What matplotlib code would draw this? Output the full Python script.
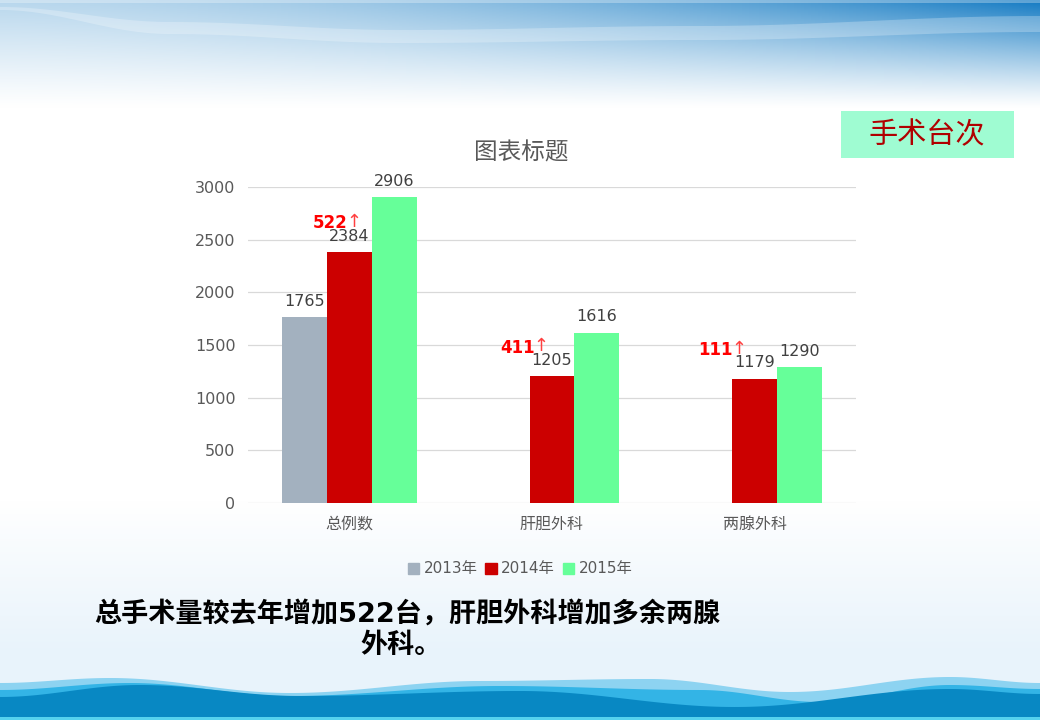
import numpy as np
import matplotlib
matplotlib.use("Agg")
import matplotlib.pyplot as plt
from matplotlib.patches import Rectangle, Patch

plt.rcParams['font.family'] = ['DejaVu Sans', 'Noto Sans CJK SC']

# ---------------- data ----------------
categories = ["总例数", "肝胆外科", "两腺外科"]
series_names = ["2013年", "2014年", "2015年"]
values_2013 = [1765, np.nan, np.nan]
values_2014 = [2384, 1205, 1179]
values_2015 = [2906, 1616, 1290]
increase_labels = ["522", "411", "111"]
y_ticks = [0, 500, 1000, 1500, 2000, 2500, 3000]
chart_title = "图表标题"
box_text = "手术台次"
note_line1 = "总手术量较去年增加522台，肝胆外科增加多余两腺"
note_line2 = "外科。"

colors = ["#a3b1bf", "#cc0000", "#66ff99"]
W, H = 1040, 720

fig = plt.figure(figsize=(10.4, 7.2), dpi=100)


def smooth_curve(xs, ys, n=500):
    """cosine interpolation between decoration control points"""
    xs = np.asarray(xs, float)
    ys = np.asarray(ys, float)
    xx = np.linspace(xs[0], xs[-1], n)
    idx = np.clip(np.searchsorted(xs, xx) - 1, 0, len(xs) - 2)
    t = (xx - xs[idx]) / (xs[idx + 1] - xs[idx])
    mu = (1 - np.cos(np.pi * t)) / 2
    return xx, ys[idx] * (1 - mu) + ys[idx + 1] * mu


# ---------------- background ----------------
bg = fig.add_axes([0, 0, 1, 1], zorder=0)
bg.set_xlim(0, W)
bg.set_ylim(H, 0)
bg.axis('off')

# soft bottom tint
yy = np.linspace(0, 1, 200)[:, None] * np.ones((1, 10))
tint = np.zeros((200, 10, 4))
tint[..., 0] = 0.91
tint[..., 1] = 0.955
tint[..., 2] = 0.985
tint[..., 3] = np.clip(yy * 1.3, 0, 1)
bg.imshow(tint, extent=[0, W, 700, 500], aspect='auto', zorder=0)

# top header gradient
hh, ww = 130, 300
ypix = np.linspace(0, 130, hh)[:, None]
t = np.linspace(0, 1, ww)[None, :]
d = (0.30 + 0.68 * t ** 1.6) * np.clip(1 - ypix / 108, 0, 1) ** 1.15
d = np.clip(d, 0, 1)
blue = np.array([0.06, 0.47, 0.76])
head = np.ones((hh, ww, 3)) * (1 - d[..., None]) + blue * d[..., None]
bg.imshow(head, extent=[0, W, 130, 0], aspect='auto', zorder=1)
# light swooshes
sx1, sy1 = smooth_curve([0, 170, 400, 700, 1040], [7, 22, 30, 26, 16])
sx2, sy2 = smooth_curve([0, 170, 400, 700, 1040], [10, 34, 43, 40, 32])
bg.fill_between(sx1, sy1, np.interp(sx1, sx2, sy2), color='white', alpha=0.25,
                lw=0, zorder=2)
bg.fill_between([0, W], 0, 3, color='white', alpha=0.3, lw=0, zorder=2)

# bottom waves
lx, ly = smooth_curve([0, 110, 290, 480, 650, 790, 950, 1040],
                      [683, 678, 693, 681, 679, 692, 677, 683])
mx, my = smooth_curve([0, 130, 290, 500, 700, 820, 950, 1040],
                      [690, 683, 696, 686, 690, 702, 685, 689])
dx, dy = smooth_curve([0, 140, 300, 520, 735, 950, 1040],
                      [697, 685, 696, 691, 707, 689, 694])
bg.fill_between(lx, ly, H, color='#8dd3f1', lw=0, zorder=3)
bg.fill_between(mx, my, H, color='#33b4e6', lw=0, zorder=4)
bg.fill_between(dx, dy, H, color='#0888c3', lw=0, zorder=5)
bg.fill_between([0, W], 717, H, color='#55d2ee', lw=0, zorder=6)

# title box
bg.add_patch(Rectangle((841, 111), 173, 47, color='#9ffcd2', lw=0, zorder=7))
bg.text(927, 135, box_text, ha='center', va='center', fontsize=21,
        color='#b00000', zorder=8, family=['Noto Sans CJK SC', 'DejaVu Sans'])

# bottom note
bg.text(407, 614, note_line1, ha='center', va='center', fontsize=19.5,
        fontweight='bold', color='black', zorder=8)
bg.text(401, 646, note_line2, ha='center', va='center', fontsize=19.5,
        fontweight='bold', color='black', zorder=8)

# chart title
bg.text(521, 153, chart_title, ha='center', va='center', fontsize=17,
        color='#595959', zorder=8, family=['Noto Sans CJK SC', 'DejaVu Sans'])

# ---------------- chart ----------------
ax = fig.add_axes([248 / W, 217 / H, 608 / W, 316 / H], zorder=2)
ax.patch.set_alpha(0)
x = np.arange(len(categories))
bw = 0.222
all_series = [values_2013, values_2014, values_2015]
for i, (vals, col) in enumerate(zip(all_series, colors)):
    vals = np.array(vals, dtype=float)
    pos = x + (i - 1) * bw
    mask = ~np.isnan(vals)
    ax.bar(pos[mask], vals[mask], width=bw, color=col, zorder=3)
    for p, v in zip(pos[mask], vals[mask]):
        ax.annotate(f"{int(v)}", (p, v), xytext=(0, 6), textcoords='offset points',
                    ha='center', va='bottom', fontsize=11.5, color='#404040')

# increase annotations near the 2014 bars
dx_px = [12.5, -3.5, -8.5]
for i, lab in enumerate(increase_labels):
    v = values_2014[i]
    dxp = dx_px[i] * 0.72
    ax.annotate("↑", (x[i], v), xytext=(dxp, 21.5), textcoords='offset points',
                ha='right', va='center', fontsize=13, color='#ff4040')
    ax.annotate(lab, (x[i], v), xytext=(dxp - 10, 20.5), textcoords='offset points',
                ha='right', va='center', fontsize=12, color='#ff0000',
                fontweight='bold')

ax.set_xlim(-0.5, len(categories) - 0.5)
ax.set_ylim(0, 3000)
ax.set_yticks(y_ticks)
ax.set_yticklabels([str(t) for t in y_ticks])
ax.set_xticks(x)
ax.set_xticklabels(categories, family=['Noto Sans CJK SC', 'DejaVu Sans'])
ax.tick_params(axis='y', length=0, pad=9, labelsize=11.5, labelcolor='#595959')
ax.tick_params(axis='x', length=0, pad=9, labelsize=11.5, labelcolor='#595959')
ax.grid(axis='y', color='#d9d9d9', lw=0.9, zorder=0)
for sp in ax.spines.values():
    sp.set_visible(False)

handles = [Patch(color=c, label=n) for c, n in zip(colors, series_names)]
leg = fig.legend(handles=handles, loc='center', bbox_to_anchor=(520 / W, 1 - 569 / H),
                 ncol=3, frameon=False, fontsize=11, handlelength=0.75,
                 handleheight=0.75, handletextpad=0.3, columnspacing=0.5)
for tx in leg.get_texts():
    tx.set_color('#595959')

fig.savefig("out.png", dpi=100)
